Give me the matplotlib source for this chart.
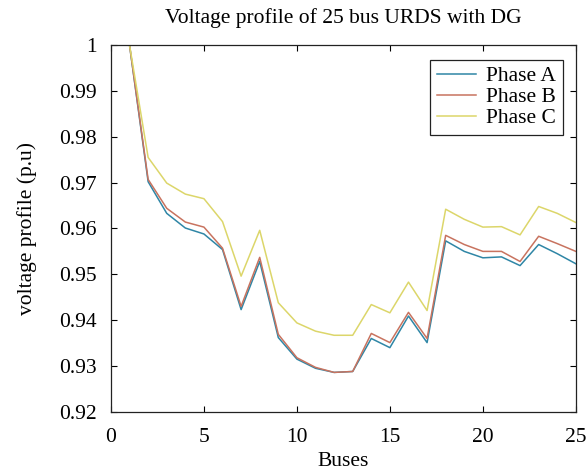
import numpy as np
import matplotlib
matplotlib.use('Agg')
from matplotlib import pyplot as plt

# Bus numbers and per-phase voltage magnitudes (p.u.)
buses = np.arange(1, 26)
phase_a = [1.0, 0.9702, 0.9633, 0.9601, 0.9588, 0.9554, 0.9423, 0.9528,
           0.9362, 0.9315, 0.9295, 0.9286, 0.9288, 0.9360, 0.9340, 0.9409,
           0.9351, 0.9573, 0.9550, 0.9536, 0.9538, 0.9519, 0.9565, 0.9545,
           0.9523]
phase_b = [1.0, 0.9707, 0.9644, 0.9614, 0.9603, 0.9557, 0.9430, 0.9537,
           0.9369, 0.9318, 0.9297, 0.9286, 0.9288, 0.9371, 0.9351, 0.9417,
           0.9360, 0.9585, 0.9565, 0.9550, 0.9550, 0.9528, 0.9583, 0.9567,
           0.9550]
phase_c = [1.0, 0.9755, 0.9699, 0.9675, 0.9665, 0.9615, 0.9496, 0.9596,
           0.9438, 0.9394, 0.9376, 0.9367, 0.9367, 0.9434, 0.9416, 0.9483,
           0.9421, 0.9642, 0.9620, 0.9603, 0.9604, 0.9586, 0.9648, 0.9633,
           0.9613]
labels = ['Phase A', 'Phase B', 'Phase C']
colors = ['#2f86a6', '#c8735f', '#dcd66a']

plt.rcParams['font.family'] = ['Liberation Serif', 'DejaVu Serif']
fs = 15.5

fig = plt.figure(figsize=(5.87, 4.75), dpi=100)
ax = fig.add_axes([0.189, 0.133, 0.792, 0.772])

for vals, lab, col in zip([phase_a, phase_b, phase_c], labels, colors):
    ax.plot(buses, vals, color=col, lw=1.1, label=lab)

ax.set_xlim(0, 25)
ax.set_ylim(0.92, 1.0)
ax.set_xticks(np.arange(0, 26, 5))
ax.set_yticks(np.arange(0.92, 1.0001, 0.01))
ax.set_yticklabels(['0.92', '0.93', '0.94', '0.95', '0.96', '0.97',
                    '0.98', '0.99', '1'])
ax.tick_params(direction='in', top=True, right=True, length=4,
               width=0.8, labelsize=fs)
ax.tick_params(axis='y', pad=10)
ax.tick_params(axis='x', pad=12)
for sp in ax.spines.values():
    sp.set_linewidth(0.9)
    sp.set_color('#222222')

ax.set_title('Voltage profile of 25 bus URDS with DG', fontsize=fs, pad=16)
ax.set_xlabel('Buses', fontsize=fs, labelpad=3)
ax.set_ylabel('voltage profile (p.u)', fontsize=fs, labelpad=16)

leg = ax.legend(loc='upper right', fontsize=fs, handlelength=1.8,
                borderpad=0.3, labelspacing=0.05, handletextpad=0.5,
                fancybox=False, framealpha=1, edgecolor='#222222',
                bbox_to_anchor=(0.995, 0.99))
leg.get_frame().set_linewidth(0.9)

plt.savefig('out.png', dpi=100)
